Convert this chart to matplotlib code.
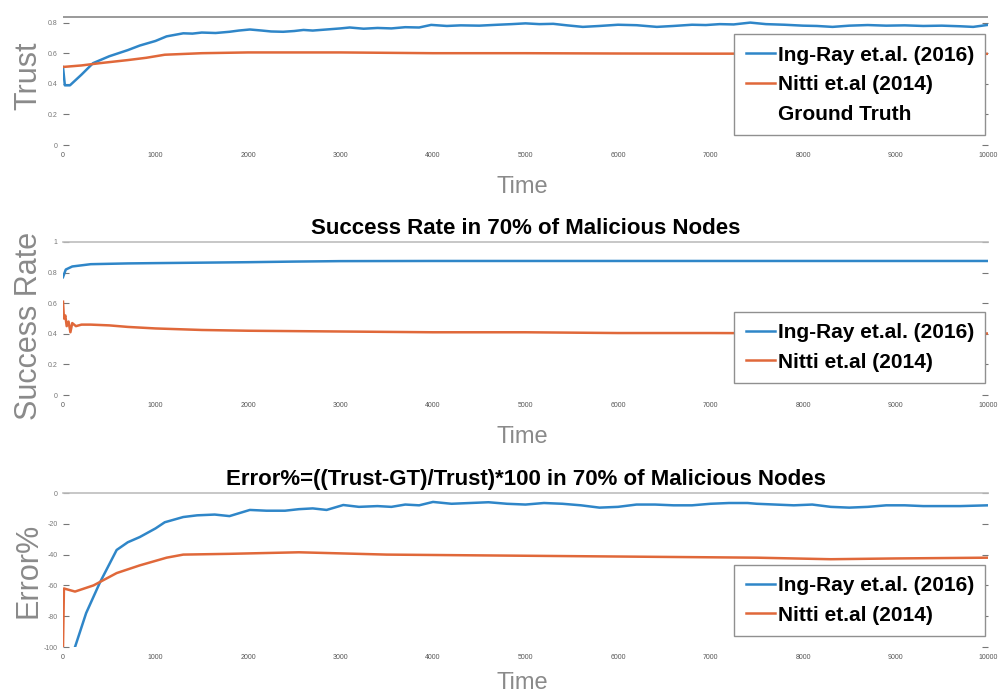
import numpy as np
import matplotlib.pyplot as plt
from matplotlib import font_manager

# fonts: narrow bold for titles/legends if present, plain sans for axis labels
names = {f.name for f in font_manager.fontManager.ttflist}
NARROW = "Liberation Sans Narrow" if "Liberation Sans Narrow" in names else "Liberation Sans"
plt.rcParams["font.family"] = ["Liberation Sans", "DejaVu Sans"]
plt.rcParams["axes.unicode_minus"] = False

BLUE = "#2f86c8"
ORANGE = "#e0683a"
GRAY = "#8a8a8a"

#############################################
# Data
#############################################
labels = ["Ing-Ray et.al. (2016)", "Nitti et.al (2014)", "Ground Truth"]
ground_truth = 0.837

# Trust
trust_t_blue = [0, 20, 75, 200, 325, 500, 700, 830, 1000, 1120, 1300, 1400, 1500, 1650,
                1800, 1900, 2020, 2150, 2250, 2380, 2500, 2600, 2700, 2850, 3000, 3100,
                3250, 3400, 3550, 3700, 3850, 3980, 4150, 4300, 4500, 4700, 4850, 5000,
                5150, 5300, 5450, 5620, 5800, 6000, 6200, 6420, 6600, 6800, 6950, 7100,
                7250, 7430, 7600, 7800, 8000, 8150, 8320, 8500, 8700, 8900, 9100, 9300,
                9500, 9700, 9840, 10000]
trust_blue = [0.51, 0.39, 0.39, 0.46, 0.535, 0.58, 0.62, 0.65, 0.68, 0.71, 0.73, 0.728,
              0.735, 0.732, 0.74, 0.748, 0.755, 0.748, 0.742, 0.74, 0.745, 0.752, 0.748,
              0.755, 0.762, 0.768, 0.76, 0.765, 0.762, 0.77, 0.768, 0.785, 0.778, 0.782,
              0.78, 0.786, 0.79, 0.795, 0.79, 0.792, 0.782, 0.772, 0.778, 0.786, 0.783,
              0.772, 0.778, 0.786, 0.784, 0.79, 0.788, 0.80, 0.79, 0.786, 0.78, 0.778,
              0.772, 0.78, 0.784, 0.78, 0.782, 0.778, 0.78, 0.776, 0.772, 0.785]
trust_t_red = [0, 200, 400, 700, 900, 1100, 1500, 2000, 3000, 4000, 5000, 6000, 7000,
               8000, 9000, 10000]
trust_red = [0.51, 0.52, 0.535, 0.555, 0.57, 0.59, 0.60, 0.605, 0.605, 0.60, 0.60,
             0.598, 0.597, 0.597, 0.596, 0.596]

# Success rate
succ_t_blue = [0, 30, 100, 300, 700, 1000, 1500, 2000, 2500, 3000, 4000, 5000, 6000,
               7000, 8000, 9000, 10000]
succ_blue = [0.77, 0.82, 0.84, 0.855, 0.86, 0.862, 0.865, 0.868, 0.872, 0.875, 0.876,
             0.876, 0.876, 0.876, 0.876, 0.876, 0.876]
succ_t_red = [0, 10, 25, 40, 60, 80, 100, 140, 200, 300, 500, 700, 1000, 1500, 2000,
              3000, 4000, 5000, 6000, 7000, 8000, 9000, 10000]
succ_red = [0.61, 0.50, 0.52, 0.45, 0.48, 0.41, 0.47, 0.45, 0.46, 0.46, 0.455, 0.445,
            0.435, 0.425, 0.42, 0.415, 0.41, 0.41, 0.405, 0.405, 0.403, 0.403, 0.402]

# Error%
err_t_blue = [0, 130, 250, 400, 580, 700, 830, 1000, 1100, 1300, 1450, 1640, 1800, 2020,
              2200, 2400, 2550, 2700, 2850, 3030, 3200, 3400, 3550, 3700, 3850, 4000,
              4200, 4400, 4600, 4800, 5000, 5200, 5400, 5600, 5800, 6000, 6200, 6400,
              6600, 6800, 7000, 7200, 7400, 7500, 7700, 7900, 8100, 8300, 8500, 8700,
              8900, 9100, 9300, 9500, 9700, 10000]
err_blue = [-115, -100, -78, -58, -37, -32, -28.6, -23, -19, -15.6, -14.5, -14, -15,
            -11, -11.5, -11.5, -10.5, -10, -11, -7.8, -9, -8.5, -9, -7.5, -8, -5.8, -7,
            -6.5, -6, -7, -7.5, -6.5, -7, -8, -9.5, -9, -7.5, -7.5, -8, -8, -7, -6.5,
            -6.5, -7, -7.5, -8, -7.5, -9, -9.5, -9, -8, -8, -8.5, -8.5, -8.5, -8]
err_t_red = [0, 10, 130, 330, 580, 830, 1120, 1300, 1800, 2550, 3500, 4500, 5500,
             6500, 7500, 8300, 9000, 10000]
err_red = [-100, -62, -64, -60, -52, -47, -42, -40, -39.5, -38.5, -40, -40.5, -41,
           -41.5, -42, -43, -42.5, -42]

x_ticks = [0, 1000, 2000, 3000, 4000, 5000, 6000, 7000, 8000, 9000, 10000]

#############################################
# Figure
#############################################
W, H = 1007, 695
fig = plt.figure(figsize=(W / 100, H / 100), dpi=100)


def px_axes(left, top, right, bottom):
    return fig.add_axes([left / W, 1 - bottom / H, (right - left) / W, (bottom - top) / H])


def style(ax, ylim, yticks, ylabel):
    ax.set_xlim(0, 10000)
    ax.set_ylim(*ylim)
    for s in ["left", "right", "bottom"]:
        ax.spines[s].set_visible(False)
    ax.spines["top"].set_color("#bdbdbd")
    ax.spines["top"].set_linewidth(1.2)
    ax.set_xticks(x_ticks)
    ax.set_yticks(yticks)
    ax.tick_params(axis="x", length=0, labelsize=5, colors="#555555", pad=5)
    ax.tick_params(axis="y", direction="in", length=4, width=0.8, colors="#777777",
                   labelsize=5, right=True, pad=4)
    ax.set_xlabel("Time", fontsize=17, color=GRAY, labelpad=4)
    ax.set_ylabel(ylabel, fontsize=22, color=GRAY, labelpad=4)


def add_legend(ax, y0, n):
    leg = ax.legend(loc="lower right", bbox_to_anchor=(0.997, y0),
                    prop={"family": NARROW, "weight": "bold", "size": 15},
                    frameon=True, fancybox=False, framealpha=1, edgecolor="#909090",
                    handlelength=1.4, handletextpad=0.12, borderpad=0.55,
                    labelspacing=0.5, borderaxespad=0)
    leg.get_frame().set_linewidth(1.0)
    if n == 3:
        leg.get_lines()[2].set_alpha(0)
    return leg


# Trust (top of the box falls outside the picture)
ax1 = px_axes(63, -8, 988, 145)
ax1.plot(trust_t_blue, trust_blue, color=BLUE, lw=1.8, label=labels[0])
ax1.plot(trust_t_red, trust_red, color=ORANGE, lw=1.8, label=labels[1])
ax1.axhline(ground_truth, color="#9a9a9a", lw=1.4, label=labels[2])
style(ax1, (0, 1), [0, 0.2, 0.4, 0.6, 0.8], "Trust")
ax1.set_yticklabels(["0", "0.2", "0.4", "0.6", "0.8"])
ax1.xaxis.set_label_coords(0.497, -0.2)
ax1.yaxis.set_label_coords(-0.021, 0.45)
add_legend(ax1, 0.065, 3)

# Success rate
ax2 = px_axes(63, 242, 988, 395)
ax2.plot(succ_t_blue, succ_blue, color=BLUE, lw=1.8, label=labels[0])
ax2.plot(succ_t_red, succ_red, color=ORANGE, lw=1.8, label=labels[1])
style(ax2, (0, 1), [0, 0.2, 0.4, 0.6, 0.8, 1], "Success Rate")
ax2.set_yticklabels(["0", "0.2", "0.4", "0.6", "0.8", "1"])
ax2.xaxis.set_label_coords(0.497, -0.2)
ax2.yaxis.set_label_coords(-0.021, 0.45)
ax2.set_title("Success Rate in 70% of Malicious Nodes", fontsize=16,
              family=NARROW, fontweight="bold", pad=6)
add_legend(ax2, 0.078, 2)

# Error%
ax3 = px_axes(63, 493, 988, 647)
ax3.plot(err_t_blue, err_blue, color=BLUE, lw=1.8, label=labels[0])
ax3.plot(err_t_red, err_red, color=ORANGE, lw=1.8, label=labels[1])
style(ax3, (-100, 0), [-100, -80, -60, -40, -20, 0], "Error%")
ax3.xaxis.set_label_coords(0.497, -0.16)
ax3.yaxis.set_label_coords(-0.021, 0.5)
ax3.set_title("Error%=((Trust-GT)/Trust)*100 in 70% of Malicious Nodes", fontsize=16,
              family=NARROW, fontweight="bold", pad=6)
add_legend(ax3, 0.071, 2)

fig.savefig("out.png", dpi=100)
